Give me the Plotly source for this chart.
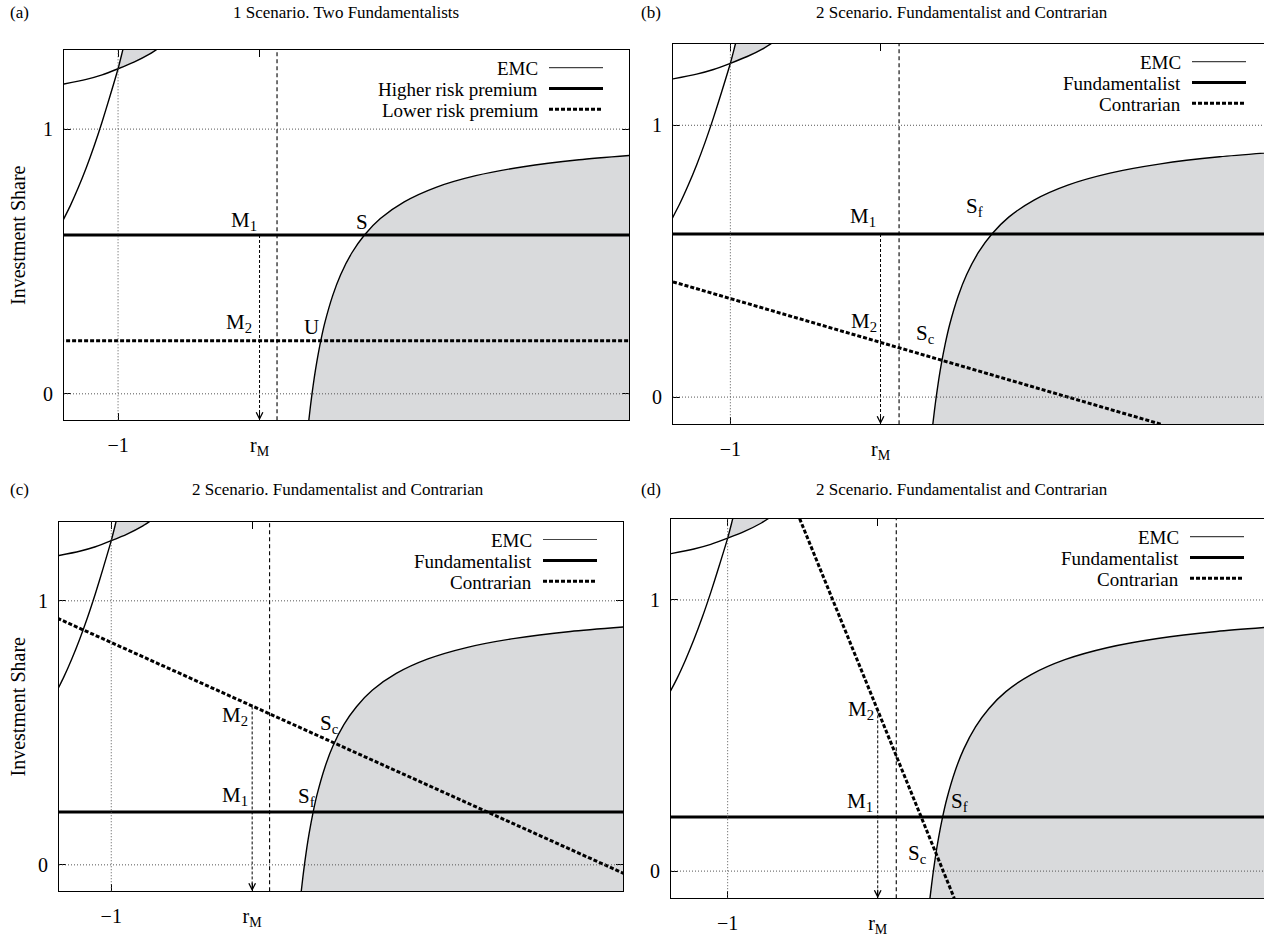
import plotly.graph_objects as go

W, H = 1264, 937
FONT = "Liberation Serif"
FILL = "#d9dadc"

# ---- data -------------------------------------------------------------
# EMC, right branch (r > 0)
emc_right_x = [0.2, 0.21, 0.22, 0.235, 0.25, 0.275, 0.3, 0.35, 0.4, 0.47, 0.55,
               0.65, 0.8, 1.0, 1.25, 1.55, 1.9, 2.3]
emc_right_y = [-0.1, -0.048, 0.0, 0.064, 0.12, 0.2, 0.267, 0.371, 0.45, 0.532, 0.6,
               0.662, 0.725, 0.78, 0.824, 0.858, 0.884, 0.904]
# EMC, left branch (r < 0)
emc_left_x = [-1.345, -1.2, -1.1, -1.0, -0.9, -0.8, -0.74]
emc_left_y = [1.17, 1.188, 1.205, 1.228, 1.253, 1.284, 1.308]
# boundary of the upper-left region
bound_x = [-1.345, -1.3, -1.25, -1.2, -1.15, -1.1, -1.05, -1.0, -0.97, -0.955]
bound_y = [0.657, 0.711, 0.779, 0.854, 0.937, 1.028, 1.126, 1.228, 1.299, 1.334]

r_M = -0.11

# (a) two fundamentalists
higher_premium = 0.6
lower_premium = 0.2
# (b) fundamentalist and contrarian
fund_b = 0.6
contr_b_x = [-1.34, 1.553]
contr_b_y = [0.424, -0.1]
# (c)
fund_c = 0.2
contr_c_x = [-1.34, 2.25]
contr_c_y = [0.934, -0.036]
# (d)
fund_d = 0.2
contr_d_x = [-0.573, 0.344]
contr_d_y = [1.3, -0.1]

x_ticks = [-1, r_M]
x_tick_text = ["\u22121", "r<sub>M</sub>"]
y_ticks = [0, 1]
y_tick_text = ["0", "1"]

# ---- panel geometry (pixels) -----------------------------------------
panels = {
    "a": dict(ax="", px=(64, 629), py=(50, 423), xr=(-1.34, 2.214), clip=False,
              title="1 Scenario. Two Fundamentalists", tag_xy=(19, 13), title_x=346),
    "b": dict(ax="2", px=(673, 1264), py=(44, 427), xr=(-1.34, 2.163), clip=True,
              title="2 Scenario. Fundamentalist and Contrarian", tag_xy=(651, 13), title_x=962),
    "c": dict(ax="3", px=(59, 623), py=(525, 897), xr=(-1.33, 2.232), clip=False,
              title="2 Scenario. Fundamentalist and Contrarian", tag_xy=(19, 493), title_x=338),
    "d": dict(ax="4", px=(671, 1264), py=(522, 904), xr=(-1.336, 2.181), clip=True,
              title="2 Scenario. Fundamentalist and Contrarian", tag_xy=(651, 493), title_x=962),
}
Y_RANGE = (-0.1, 1.3)

fig = go.Figure()
shapes, annotations = [], []


def px2paper(x, y):
    return x / W, 1 - y / H


def line_trace(ax, x, y, width, dash="solid", shape="linear", **kw):
    return go.Scatter(x=x, y=y, mode="lines", xaxis="x" + ax, yaxis="y" + ax,
                      line=dict(color="black", width=width, dash=dash, shape=shape,
                                smoothing=0.7 if shape == "spline" else None),
                      hoverinfo="skip", showlegend=False, **kw)


def add_common(key, p):
    ax = p["ax"]
    # shaded region under the right EMC branch
    fig.add_trace(go.Scatter(x=[emc_right_x[0], emc_right_x[-1]], y=[Y_RANGE[0], Y_RANGE[0]],
                             mode="lines", line=dict(width=0), xaxis="x" + ax, yaxis="y" + ax,
                             hoverinfo="skip", showlegend=False))
    fig.add_trace(go.Scatter(x=emc_right_x, y=emc_right_y, mode="lines", fill="tonexty",
                             fillcolor=FILL, line=dict(width=0, shape="spline", smoothing=0.7),
                             xaxis="x" + ax, yaxis="y" + ax, hoverinfo="skip", showlegend=False))
    # shaded lens in the upper-left corner
    bx = [x for x in bound_x if x >= -1.0]
    by = [y for x, y in zip(bound_x, bound_y) if x >= -1.0]
    ex = [x for x in emc_left_x if x >= -1.0][::-1]
    ey = [y for x, y in zip(emc_left_x, emc_left_y) if x >= -1.0][::-1]
    fig.add_trace(go.Scatter(x=bx + ex, y=by + ey, mode="lines", fill="toself", fillcolor=FILL,
                             line=dict(width=0), xaxis="x" + ax, yaxis="y" + ax,
                             hoverinfo="skip", showlegend=False))
    # curves
    fig.add_trace(line_trace(ax, emc_right_x, emc_right_y, 1.4, shape="spline"))
    fig.add_trace(line_trace(ax, emc_left_x, emc_left_y, 1.4, shape="spline"))
    fig.add_trace(line_trace(ax, bound_x, bound_y, 1.4, shape="spline"))

    xref, yref = "x" + ax, "y" + ax
    # dotted grid
    grid = dict(color="#555", width=1, dash="1px,2px")
    shapes.append(dict(type="line", xref=xref, yref=yref + " domain", x0=-1, x1=-1, y0=0, y1=1,
                       line=grid, layer="above"))
    for gy in y_ticks:
        shapes.append(dict(type="line", xref=xref + " domain", yref=yref, x0=0, x1=1, y0=gy, y1=gy,
                           line=grid, layer="above"))
    # vertical dashed line at r = 0
    shapes.append(dict(type="line", xref=xref, yref=yref + " domain", x0=0, x1=0, y0=0, y1=1,
                       line=dict(color="black", width=1.1, dash="4px,3px"), layer="above"))

    # axes
    x0, x1 = p["px"]
    y0, y1 = p["py"]
    tickfont = dict(family=FONT, size=20, color="black")
    xa = dict(domain=[x0 / W, x1 / W], range=list(p["xr"]), anchor=yref,
              tickvals=x_ticks, ticktext=x_tick_text, ticks="inside", ticklen=7,
              tickcolor="black", showline=True, linecolor="black", linewidth=1,
              mirror="ticks", showgrid=False, zeroline=False,
              tickfont=tickfont, ticklabelstandoff=7)
    ya = dict(domain=[1 - y1 / H, 1 - y0 / H], range=list(Y_RANGE), anchor=xref,
              tickvals=y_ticks, ticktext=y_tick_text, ticks="inside", ticklen=7,
              tickcolor="black", showline=True, linecolor="black", linewidth=1,
              mirror=False if p["clip"] else "ticks", showgrid=False, zeroline=False,
              tickfont=tickfont, ticklabelstandoff=6)
    fig.update_layout({"xaxis" + ax: xa, "yaxis" + ax: ya})

    # panel tag and title
    tx, ty = px2paper(*p["tag_xy"])
    annotations.append(dict(x=tx, y=ty, xref="paper", yref="paper", text="(%s)" % key,
                            showarrow=False, xanchor="center", yanchor="middle",
                            font=dict(family=FONT, size=17, color="black")))
    tx, _ = px2paper(p["title_x"], 0)
    annotations.append(dict(x=tx, y=ty, xref="paper", yref="paper", text=p["title"],
                            showarrow=False, xanchor="center", yanchor="middle",
                            font=dict(family=FONT, size=17, color="black")))


def add_arrow(ax, y_start):
    fig.add_trace(line_trace(ax, [r_M, r_M], [y_start, Y_RANGE[0]], 1, dash="3px,2px"))
    annotations.append(dict(x=r_M, y=Y_RANGE[0], xref="x" + ax, yref="y" + ax, ax=0, ay=-10,
                            text="", showarrow=True, arrowhead=5, arrowsize=1.3, arrowwidth=1,
                            arrowcolor="black"))


def add_label(ax, x, y, text):
    annotations.append(dict(x=x, y=y, xref="x" + ax, yref="y" + ax, text=text, showarrow=False,
                            xanchor="center", yanchor="middle",
                            font=dict(family=FONT, size=21, color="black")))


def add_key(p, names, styles):
    right = p["px"][0] + 599 if p["clip"] else p["px"][1]
    top = p["py"][0]
    for i, (name, st) in enumerate(zip(names, styles)):
        yy = top + 18 + 21 * i
        tx, ty = px2paper(right - 89, yy + 1)
        annotations.append(dict(x=tx, y=ty, xref="paper", yref="paper", text=name,
                                showarrow=False, xanchor="right", yanchor="middle",
                                font=dict(family=FONT, size=19, color="black")))
        sx0, sy = px2paper(right - 80, yy)
        sx1, _ = px2paper(right - 26, yy)
        shapes.append(dict(type="line", xref="paper", yref="paper", x0=sx0, x1=sx1, y0=sy, y1=sy,
                           line=st))


EMC_STYLE = dict(color="#444", width=1.2)
SOLID_STYLE = dict(color="black", width=3)
DASH_STYLE = dict(color="black", width=3, dash="4px,2px")

for key, p in panels.items():
    add_common(key, p)
    ax = p["ax"]
    xr = p["xr"]
    if key == "a":
        fig.add_trace(line_trace(ax, [xr[0] - 0.1, xr[1] + 0.1], [higher_premium] * 2, 3))
        fig.add_trace(line_trace(ax, [xr[0] - 0.1, xr[1] + 0.1], [lower_premium] * 2, 3, dash="4px,2px"))
        add_arrow(ax, higher_premium)
        add_label(ax, -0.208, 0.653, "M<sub>1</sub>")
        add_label(ax, 0.533, 0.650, "S")
        add_label(ax, -0.237, 0.268, "M<sub>2</sub>")
        add_label(ax, 0.218, 0.251, "U")
        add_key(p, ["EMC", "Higher risk premium", "Lower risk premium"],
                [EMC_STYLE, SOLID_STYLE, DASH_STYLE])
    elif key == "b":
        fig.add_trace(line_trace(ax, [xr[0] - 0.1, xr[1] + 0.1], [fund_b] * 2, 3))
        fig.add_trace(line_trace(ax, contr_b_x, contr_b_y, 3, dash="4px,2px"))
        add_arrow(ax, fund_b)
        add_label(ax, -0.213, 0.662, "M<sub>1</sub>")
        add_label(ax, 0.448, 0.698, "S<sub>f</sub>")
        add_label(ax, -0.21, 0.276, "M<sub>2</sub>")
        add_label(ax, 0.154, 0.232, "S<sub>c</sub>")
        add_key(p, ["EMC", "Fundamentalist", "Contrarian"], [EMC_STYLE, SOLID_STYLE, DASH_STYLE])
    elif key == "c":
        fig.add_trace(line_trace(ax, [xr[0] - 0.1, xr[1] + 0.1], [fund_c] * 2, 3))
        fig.add_trace(line_trace(ax, contr_c_x, contr_c_y, 3, dash="4px,2px"))
        add_arrow(ax, 0.6)
        add_label(ax, -0.22, 0.562, "M<sub>2</sub>")
        add_label(ax, 0.381, 0.535, "S<sub>c</sub>")
        add_label(ax, -0.217, 0.261, "M<sub>1</sub>")
        add_label(ax, 0.231, 0.258, "S<sub>f</sub>")
        add_key(p, ["EMC", "Fundamentalist", "Contrarian"], [EMC_STYLE, SOLID_STYLE, DASH_STYLE])
    else:
        fig.add_trace(line_trace(ax, [xr[0] - 0.1, xr[1] + 0.1], [fund_d] * 2, 3))
        fig.add_trace(line_trace(ax, contr_d_x, contr_d_y, 3, dash="4px,2px"))
        add_arrow(ax, 0.593)
        add_label(ax, -0.209, 0.594, "M<sub>2</sub>")
        add_label(ax, -0.213, 0.254, "M<sub>1</sub>")
        add_label(ax, 0.375, 0.254, "S<sub>f</sub>")
        add_label(ax, 0.123, 0.064, "S<sub>c</sub>")
        add_key(p, ["EMC", "Fundamentalist", "Contrarian"], [EMC_STYLE, SOLID_STYLE, DASH_STYLE])

# y-axis titles on the left-hand panels
for cy in (236.5, 711):
    tx, ty = px2paper(18, cy)
    annotations.append(dict(x=tx, y=ty, xref="paper", yref="paper", text="Investment Share",
                            textangle=-90, showarrow=False, xanchor="center", yanchor="middle",
                            font=dict(family=FONT, size=20, color="black")))

fig.update_layout(width=W, height=H, margin=dict(l=0, r=0, t=0, b=0),
                  paper_bgcolor="white", plot_bgcolor="white",
                  shapes=shapes, annotations=annotations, showlegend=False)

fig.write_html("out.html")
